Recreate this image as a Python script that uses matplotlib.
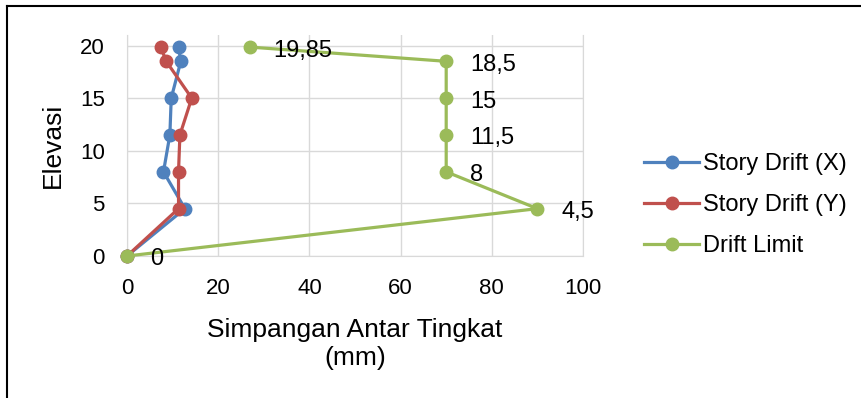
import numpy as np
import matplotlib.pyplot as plt
from matplotlib.lines import Line2D

plt.rcParams['font.family'] = ['Liberation Sans', 'DejaVu Sans']

# elevations (m)
elev = [0, 4.5, 8, 11.5, 15, 18.5, 19.85]
# story drift values (mm)
drift_x = [0, 12.7, 8.0, 9.4, 9.7, 11.8, 11.3]
drift_y = [0, 11.3, 11.3, 11.6, 14.2, 8.6, 7.4]
drift_limit = [0, 90, 70, 70, 70, 70, 27]

series = [
    ('Story Drift (X)', drift_x, '#4F81BD'),
    ('Story Drift (Y)', drift_y, '#C0504D'),
    ('Drift Limit', drift_limit, '#9BBB59'),
]

fig = plt.figure(figsize=(8.62, 3.98), dpi=100)
ax = fig.add_axes([127 / 862, 1 - 256 / 398, 456 / 862, 221 / 398])

for name, vals, col in series:
    ax.plot(vals, elev, color=col, lw=2.3, marker='o', ms=9,
            label=name, clip_on=False, zorder=3)

# data labels for the limit line show the elevation
for xv, yv in zip(drift_limit, elev):
    txt = ('%g' % yv).replace('.', ',')
    ax.annotate(txt, (xv, yv), xytext=(17, -2.5), textcoords='offset points',
                ha='left', va='center', fontsize=17)

ax.set_xlim(0, 100)
ax.set_ylim(0, 21)
ax.set_xticks(np.arange(0, 101, 20))
ax.set_yticks(np.arange(0, 21, 5))
ax.grid(True, color='#D9D9D9', lw=1)
ax.set_axisbelow(True)
ax.tick_params(length=0, labelsize=16)
ax.tick_params(axis='x', pad=16)
ax.tick_params(axis='y', pad=16)
ax.spines['top'].set_visible(False)
for s in ['left', 'bottom', 'right']:
    ax.spines[s].set_color('#D9D9D9')

ax.set_xlabel('Simpangan Antar Tingkat\n(mm)', fontsize=19)
ax.xaxis.set_label_coords(0.5, -0.28)
ax.set_ylabel('Elevasi', fontsize=19, va='center')
ax.yaxis.set_label_coords(-0.162, 0.50)

fig.legend(loc='center left', bbox_to_anchor=(635 / 862, 1 - 205 / 398),
           frameon=False, fontsize=17, handlelength=2.3, handletextpad=0.2,
           labelspacing=0.8, borderaxespad=0)

# outer frame
fig.add_artist(Line2D([7.5 / 862, 7.5 / 862], [0, 1 - 6 / 398], color='black', lw=1.5))
fig.add_artist(Line2D([7.5 / 862, 1], [1 - 6 / 398, 1 - 6 / 398], color='black', lw=1.5))

fig.savefig('out.png', dpi=100)
